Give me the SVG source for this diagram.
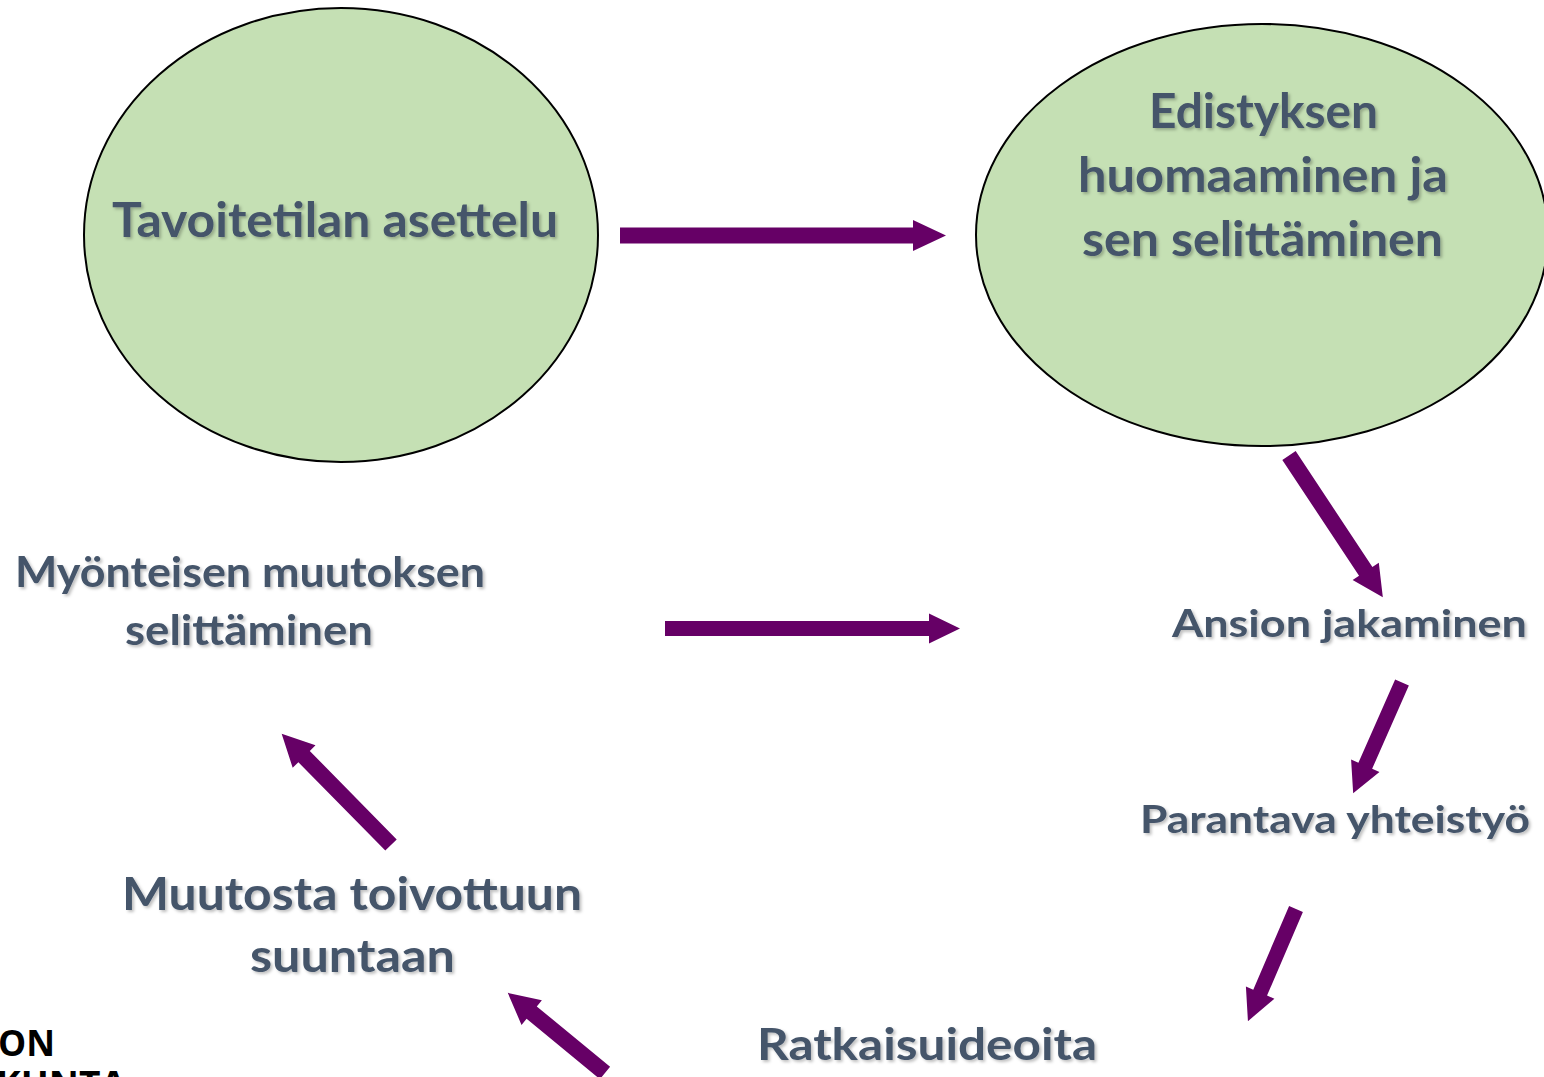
<svg xmlns="http://www.w3.org/2000/svg" width="1544" height="1077" viewBox="0 0 1544 1077">
<defs>
<style>
.node ellipse{fill:#C5E0B4;stroke:#000;stroke-width:2}
.lbl{font-family:Lato,"Open Sans","Liberation Sans",sans-serif;font-weight:bold;fill:#44546A;text-anchor:middle;filter:url(#sh)}
.arrow{fill:#660066}
.logo{font-family:"Open Sans","Liberation Sans",sans-serif;font-weight:bold;fill:#000}
</style>
<filter id="sh" x="-5%" y="-20%" width="110%" height="150%">
<feDropShadow dx="2" dy="2" stdDeviation="1.5" flood-color="#000" flood-opacity="0.25"/>
</filter>
</defs>
<rect width="1544" height="1077" fill="#fff"/>
<g id="node-tavoitetila" class="node">
<ellipse cx="341" cy="235" rx="257" ry="227"/>
<text class="lbl" x="335" y="237" font-size="48" textLength="446" lengthAdjust="spacingAndGlyphs">Tavoitetilan asettelu</text>
</g>
<g id="node-edistys" class="node">
<ellipse cx="1262" cy="235" rx="286" ry="211"/>
<text class="lbl" x="1263.5" y="128" font-size="48" textLength="229" lengthAdjust="spacingAndGlyphs">Edistyksen</text>
<text class="lbl" x="1263" y="192" font-size="48" textLength="370" lengthAdjust="spacingAndGlyphs">huomaaminen ja</text>
<text class="lbl" x="1262.5" y="256" font-size="48" textLength="361" lengthAdjust="spacingAndGlyphs">sen selittäminen</text>
</g>
<g id="node-ansio">
<text class="lbl" x="1349.5" y="637" font-size="38" textLength="355" lengthAdjust="spacingAndGlyphs">Ansion jakaminen</text>
</g>
<g id="node-parantava">
<text class="lbl" x="1335" y="833" font-size="38" textLength="390" lengthAdjust="spacingAndGlyphs">Parantava yhteistyö</text>
</g>
<g id="node-ratkaisu">
<text class="lbl" x="927" y="1060" font-size="44" textLength="340" lengthAdjust="spacingAndGlyphs">Ratkaisuideoita</text>
</g>
<g id="node-muutosta">
<text class="lbl" x="352" y="910" font-size="46" textLength="460" lengthAdjust="spacingAndGlyphs">Muutosta toivottuun</text>
<text class="lbl" x="352.5" y="972" font-size="46" textLength="205" lengthAdjust="spacingAndGlyphs">suuntaan</text>
</g>
<g id="node-myonteinen">
<text class="lbl" x="250" y="587" font-size="42" textLength="470" lengthAdjust="spacingAndGlyphs">Myönteisen muutoksen</text>
<text class="lbl" x="249" y="645" font-size="42" textLength="248" lengthAdjust="spacingAndGlyphs">selittäminen</text>
</g>
<g id="logo">
<text class="logo" x="-2" y="1056" font-size="36" textLength="57" lengthAdjust="spacingAndGlyphs">ON</text>
<text class="logo" x="-4" y="1097" font-size="36" textLength="130" lengthAdjust="spacingAndGlyphs">KUNTA</text>
</g>
<g id="connectors" class="arrow">
<path transform="translate(620,235.5)" d="M0,-8H293V-15.5L326,0L293,15.5V8H0Z"/>
<path transform="translate(665,628.5)" d="M0,-7.5H264V-15L295,0L264,15V7.5H0Z"/>
<path transform="translate(1289,455.5) rotate(56.5)" d="M0,-8H139V-15.7L170,0L139,15.7V8H0Z"/>
<path transform="translate(1402,682.5) rotate(113.8)" d="M0,-7.5H91V-15.5L121,0L91,15.5V7.5H0Z"/>
<path transform="translate(1296,909) rotate(113.2)" d="M0,-7.5H91V-15.5L122,0L91,15.5V7.5H0Z"/>
<path transform="translate(391,845) rotate(225.5)" d="M0,-8H124V-16L156,0L124,16V8H0Z"/>
<path transform="translate(605,1073) rotate(219.5)" d="M0,-8H95V-16L126,0L95,16V8H0Z"/>
</g>
</svg>
